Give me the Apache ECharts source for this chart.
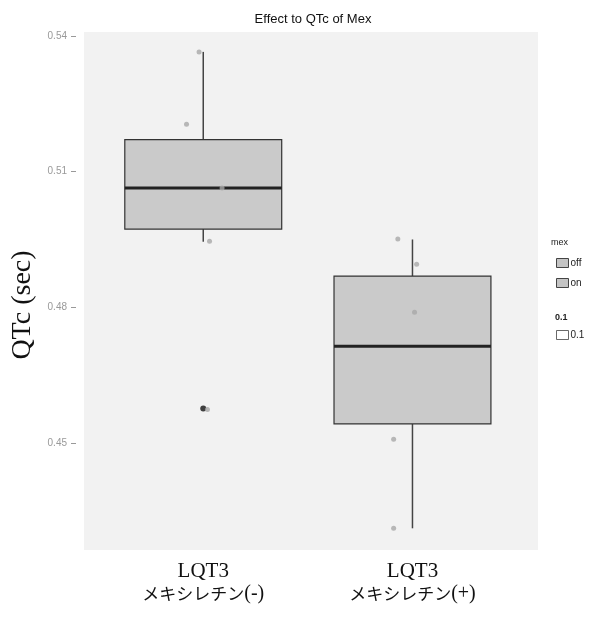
<!DOCTYPE html>
<html>
<head>
<meta charset="utf-8">
<script src="https://cdn.jsdelivr.net/npm/echarts@6/dist/echarts.min.js"></script>
<style>
  html, body { margin:0; padding:0; background:#fff; }
  #chart { width:595px; height:619px; }
</style>
</head>
<body>
<div id="chart"></div>
<script>
// categories (x position 0 and 1 on the value axis)
const categories = ['LQT3\nメキシレチン(-)', 'LQT3\nメキシレチン(+)']
const groups = ['off', 'on']

// box stats: [pos, lowWhisker, Q1, median, Q3, highWhisker]
const boxOff = [0, 0.4945, 0.4973, 0.5064, 0.5171, 0.5365]
const boxOn  = [1, 0.4311, 0.4542, 0.4714, 0.4869, 0.4950]

// outlier (black dot)
const outliers = [[0, 0.4576]]

// jittered raw points [x, QTc]
const jitterPts = [
  [-0.02, 0.5365], [-0.08, 0.5205], [0.03, 0.4946], [0.02, 0.4574], [0.09, 0.5064],
  [0.93, 0.4951], [1.02, 0.4895], [1.01, 0.4789], [0.91, 0.4508], [0.91, 0.4311]
]

const yTicks = [0.45, 0.48, 0.51, 0.54]

const chart = echarts.init(document.getElementById('chart'))

// box drawn with library coords: rect + whiskers + thick median
function boxRender(params, api) {
  const x = api.value(0)
  const half = api.size([0.75, 0])[0] / 2
  const lo = api.coord([x, api.value(1)])
  const q1 = api.coord([x, api.value(2)])
  const md = api.coord([x, api.value(3)])
  const q3 = api.coord([x, api.value(4)])
  const hi = api.coord([x, api.value(5)])
  return {
    type:'group',
    children:[
      { type:'line', shape:{ x1:hi[0], y1:hi[1], x2:q3[0], y2:q3[1] },
        style:{ stroke:'#444', lineWidth:1.5 } },
      { type:'line', shape:{ x1:q1[0], y1:q1[1], x2:lo[0], y2:lo[1] },
        style:{ stroke:'#444', lineWidth:1.5 } },
      { type:'rect', shape:{ x:q3[0]-half, y:q3[1], width:half*2, height:q1[1]-q3[1] },
        style:{ fill:'#cacaca', stroke:'#333', lineWidth:1.2 } },
      { type:'line', shape:{ x1:md[0]-half, y1:md[1], x2:md[0]+half, y2:md[1] },
        style:{ stroke:'#222', lineWidth:3 } }
    ]
  }
}

const serif = '"Liberation Serif", "Times New Roman", serif'
const cjk = '"Noto Sans CJK JP", sans-serif'

chart.setOption({
  animation:false,
  title:[
    { text:'Effect to QTc of Mex', left:308, top:8, textAlign:'center',
      textStyle:{ fontFamily:'Liberation Sans, Arial', fontSize:13, fontWeight:'normal', color:'#111' } },
    { text:'mex', left:546, top:233,
      textStyle:{ fontFamily:'Liberation Sans, Arial', fontSize:9, fontWeight:'normal', color:'#222' } },
    { text:'0.1', left:550, top:308,
      textStyle:{ fontFamily:'Liberation Sans, Arial', fontSize:9, fontWeight:'bold', color:'#222' } }
  ],
  legend:[
    { data:[
        { name:'off', icon:'rect', itemStyle:{ color:'#c4c4c4', borderColor:'#444', borderWidth:1 } },
        { name:'on',  icon:'rect', itemStyle:{ color:'#c4c4c4', borderColor:'#444', borderWidth:1 } }
      ],
      orient:'vertical', left:551, top:253, itemWidth:12, itemHeight:9, itemGap:10,
      selectedMode:false,
      textStyle:{ fontFamily:'Liberation Sans, Arial', fontSize:10, color:'#222', padding:[0,0,0,-3] } },
    { data:[
        { name:'0.1', icon:'rect', itemStyle:{ color:'#fff', borderColor:'#444', borderWidth:1 } }
      ],
      orient:'vertical', left:551, top:325, itemWidth:12, itemHeight:9,
      selectedMode:false,
      textStyle:{ fontFamily:'Liberation Sans, Arial', fontSize:10, color:'#222', padding:[0,0,0,-3] } }
  ],
  grid:{ left:84, right:57, top:32, bottom:69, show:true, backgroundColor:'#f2f2f2', borderWidth:0,
    outerBoundsMode:'none', containLabel:false },
  xAxis:{
    type:'value', min:-0.57, max:1.6,
    axisLine:{ show:false, onZero:false }, axisTick:{ show:false }, splitLine:{ show:false },
    axisLabel:{
      customValues:[0, 1], margin:10,
      formatter:v => {
        const parts = categories[v].split('\n')
        const m = parts[1].match(/^(.*?)(\(.*\))$/)
        return '{a|' + parts[0] + '}\n{b|' + m[1] + '}{c|' + m[2] + '}'
      },
      rich:{
        a:{ fontFamily:serif, fontSize:21, color:'#111', lineHeight:22 },
        b:{ fontFamily:cjk, fontSize:17, color:'#111', lineHeight:24 },
        c:{ fontFamily:serif, fontSize:20, color:'#111', lineHeight:24 }
      }
    }
  },
  yAxis:{
    type:'value', min:0.4263, max:0.5409, offset:8,
    name:'QTc (sec)', nameLocation:'middle', nameGap:38,
    nameTextStyle:{ fontFamily:serif, fontSize:28, color:'#111', padding:[0,28,0,0] },
    axisLine:{ show:false, onZero:false },
    axisTick:{ show:true, customValues:yTicks, length:5, lineStyle:{ color:'#999' } },
    axisLabel:{ customValues:yTicks, margin:9, fontSize:10, color:'#999',
      fontFamily:'Liberation Sans, Arial', formatter:v => v.toFixed(2) },
    splitLine:{ show:false }
  },
  series:[
    { name:'off', type:'custom', renderItem:boxRender, data:[boxOff], z:2,
      encode:{ x:0, y:[1,2,3,4,5] }, itemStyle:{ color:'#c4c4c4' } },
    { name:'on', type:'custom', renderItem:boxRender, data:[boxOn], z:2,
      encode:{ x:0, y:[1,2,3,4,5] }, itemStyle:{ color:'#c4c4c4' } },
    { name:'outlier', type:'scatter', data:outliers, symbolSize:6, z:3,
      itemStyle:{ color:'#111' } },
    { name:'0.1', type:'scatter', data:jitterPts, symbolSize:5, z:4,
      itemStyle:{ color:'#a8a8a8' } }
  ]
})
</script>
</body>
</html>
